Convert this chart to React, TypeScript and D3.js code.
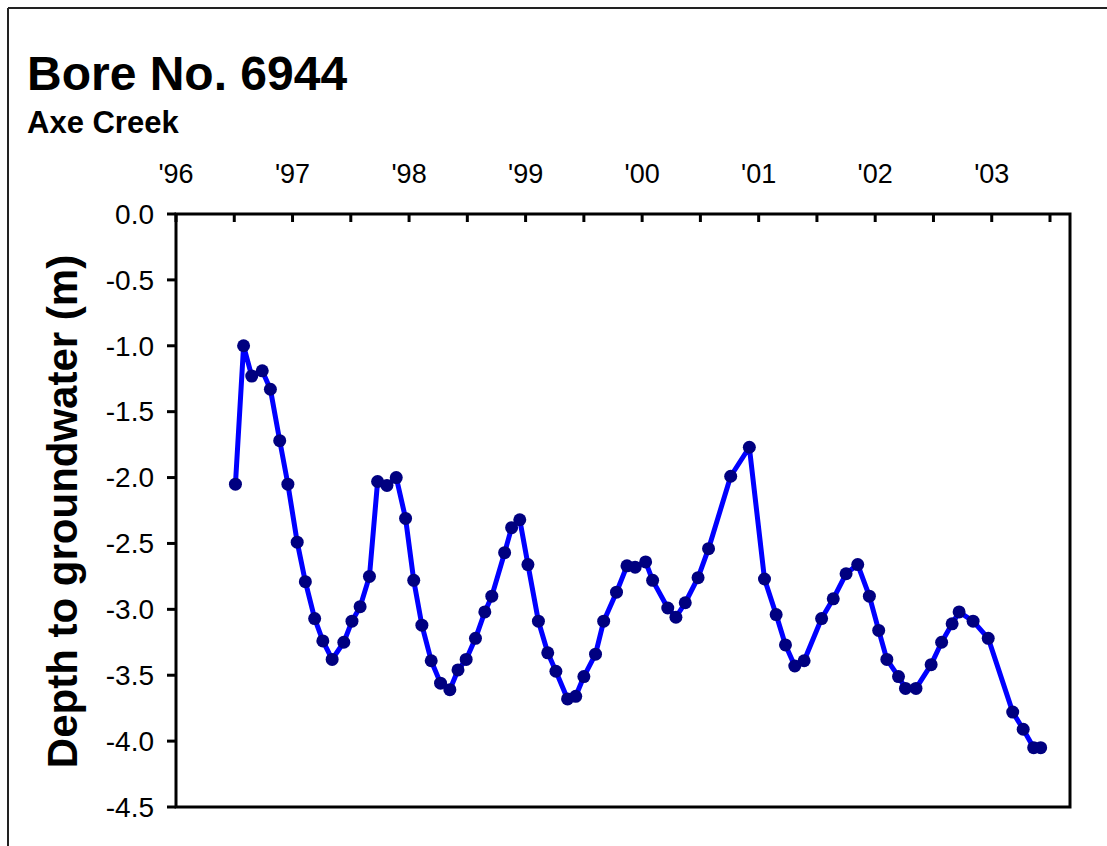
import React from "react";
import * as d3 from "d3";

const title = "Bore No. 6944";
const subtitle = "Axe Creek";
const yAxisTitle = "Depth to groundwater (m)";

// decimal years of each reading
const dates = [
  1996.51, 1996.58, 1996.65, 1996.74, 1996.81, 1996.89, 1996.96, 1997.04, 1997.11, 1997.19,
  1997.26, 1997.34, 1997.44, 1997.51, 1997.58, 1997.66, 1997.73, 1997.81, 1997.89, 1997.97,
  1998.04, 1998.11, 1998.19, 1998.27, 1998.35, 1998.42, 1998.49, 1998.57, 1998.65, 1998.71,
  1998.82, 1998.88, 1998.95, 1999.02, 1999.11, 1999.19, 1999.26, 1999.36, 1999.43, 1999.5,
  1999.6, 1999.67, 1999.78, 1999.87, 1999.94, 2000.03, 2000.09, 2000.22, 2000.29, 2000.37,
  2000.48, 2000.57, 2000.76, 2000.92, 2001.05, 2001.15, 2001.23, 2001.31, 2001.39, 2001.54,
  2001.64, 2001.75, 2001.85, 2001.95, 2002.03, 2002.1, 2002.2, 2002.26, 2002.35, 2002.48,
  2002.57, 2002.66, 2002.72, 2002.84, 2002.97, 2003.18, 2003.27, 2003.36, 2003.42,
];

// depth to groundwater (m)
const depths = [
  -2.05, -1.0, -1.23, -1.19, -1.33, -1.72, -2.05, -2.49, -2.79, -3.07,
  -3.24, -3.38, -3.25, -3.09, -2.98, -2.75, -2.03, -2.06, -2.0, -2.31,
  -2.78, -3.12, -3.39, -3.56, -3.61, -3.46, -3.38, -3.22, -3.02, -2.9,
  -2.57, -2.38, -2.32, -2.66, -3.09, -3.33, -3.47, -3.68, -3.66, -3.51,
  -3.34, -3.09, -2.87, -2.67, -2.68, -2.64, -2.78, -2.99, -3.06, -2.95,
  -2.76, -2.54, -1.99, -1.77, -2.77, -3.04, -3.27, -3.43, -3.39, -3.07,
  -2.92, -2.73, -2.66, -2.9, -3.16, -3.38, -3.51, -3.6, -3.6, -3.42,
  -3.25, -3.11, -3.02, -3.09, -3.22, -3.78, -3.91, -4.05, -4.05,
];

const yearTicks = [1996, 1997, 1998, 1999, 2000, 2001, 2002, 2003];
const yearLabels = ["'96", "'97", "'98", "'99", "'00", "'01", "'02", "'03"];
const halfYearTicks = [1996.5, 1997.5, 1998.5, 1999.5, 2000.5, 2001.5, 2002.5, 2003.5];
const yTicks = [0, -0.5, -1, -1.5, -2, -2.5, -3, -3.5, -4, -4.5];

const W = 1107;
const H = 846;
const left = 176;
const right = 1070;
const top = 214;
const bottom = 807;

export default function App() {
  const x = d3.scaleLinear().domain([1996, 2003.5]).range([left, 1050]);
  const y = d3.scaleLinear().domain([0, -4.5]).range([top, bottom]);
  const pts = dates.map((d, i) => [d, depths[i]] as [number, number]);
  const line = d3
    .line<[number, number]>()
    .x((d) => x(d[0]))
    .y((d) => y(d[1]));
  const font = "'Liberation Sans', Arial, Helvetica, sans-serif";

  return (
    <div style={{ position: "fixed", left: 0, top: 0, width: W, height: H, background: "#fff" }}>
      <svg width={W} height={H} style={{ display: "block" }} fontFamily={font}>
        <rect x={0} y={0} width={W} height={H} fill="#fff" />
        {/* outer frame */}
        <line x1={8} y1={8} x2={W} y2={8} stroke="#222" strokeWidth={2} />
        <line x1={8} y1={8} x2={8} y2={H} stroke="#222" strokeWidth={2} />

        <text x={27} y={90} fontSize={48} fontWeight="bold" fill="#000">
          {title}
        </text>
        <text x={27} y={133} fontSize={31} fontWeight="bold" fill="#000">
          {subtitle}
        </text>

        {/* y axis title */}
        <text
          transform={`translate(77, ${(255 + 768) / 2}) rotate(-90)`}
          textAnchor="middle"
          fontSize={42}
          fontWeight="bold"
          fill="#000"
        >
          {yAxisTitle}
        </text>

        {/* plot frame */}
        <rect x={left} y={top} width={right - left} height={bottom - top} fill="none" stroke="#000" strokeWidth={3} />

        {/* top ticks */}
        {yearTicks.concat(halfYearTicks).map((t) => (
          <line key={"tt" + t} x1={x(t)} x2={x(t)} y1={top} y2={top + 8} stroke="#000" strokeWidth={3} />
        ))}
        {yearTicks.map((t, i) => (
          <text key={"yl" + t} x={x(t)} y={183} textAnchor="middle" fontSize={27} fill="#000">
            {yearLabels[i]}
          </text>
        ))}

        {/* y ticks */}
        {yTicks.map((t) => (
          <g key={"yt" + t}>
            <line x1={left - 9} x2={left} y1={y(t)} y2={y(t)} stroke="#000" strokeWidth={3} />
            <text x={154} y={y(t)} dy="0.35em" textAnchor="end" fontSize={28} fill="#000">
              {t.toFixed(1)}
            </text>
          </g>
        ))}

        {/* series */}
        <path d={line(pts) || ""} fill="none" stroke="#0000ff" strokeWidth={5} strokeLinejoin="round" />
        {pts.map((p, i) => (
          <circle key={"c" + i} cx={x(p[0])} cy={y(p[1])} r={6.5} fill="#000080" />
        ))}
      </svg>
    </div>
  );
}
